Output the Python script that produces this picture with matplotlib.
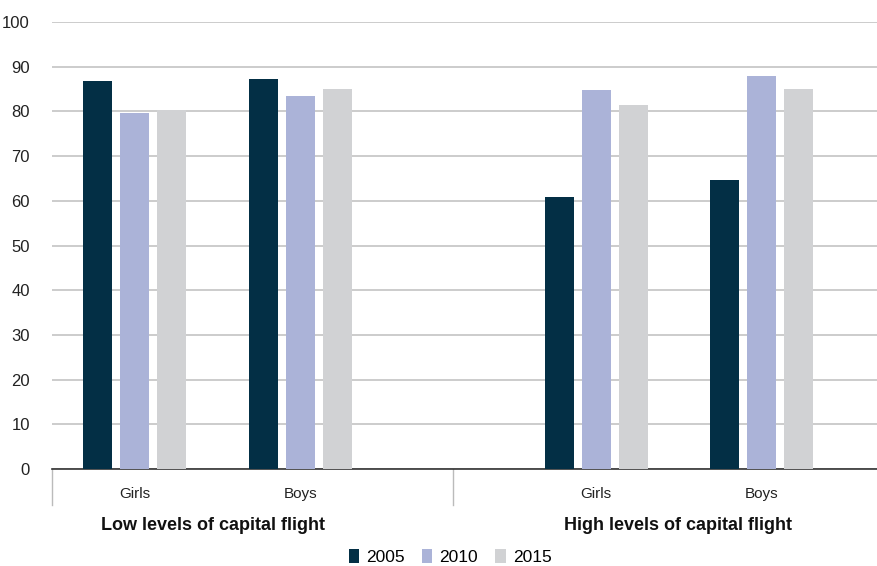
import numpy as np
import matplotlib
matplotlib.use('Agg')
import matplotlib.pyplot as plt

plt.rcParams['font.family'] = ['Liberation Sans Narrow', 'Liberation Sans', 'DejaVu Sans']

YEARS = ['2005', '2010', '2015']
GROUPS = ['Low levels of capital flight', 'High levels of capital flight']
CATS = ['Girls', 'Boys', 'Girls', 'Boys']
VALUES = {
    '2005': [86.8, 87.2, 60.9, 64.7],
    '2010': [79.6, 83.4, 84.8, 87.9],
    '2015': [80.3, 85.1, 81.4, 85.0],
}
COLORS = ['#032f45', '#abb3d8', '#d1d2d4']

# category centres (layout), group separator, group label centres
pos = np.array([0.5, 1.5, 3.28, 4.28])
sep = 2.415
xmax = 4.98
group_pos = [0.97, 3.777]
width = 0.175
step = 0.223

fig = plt.figure(figsize=(8.78, 5.66), dpi=100)
ax = fig.add_axes([52 / 878, 97 / 566, 826 / 878, 447 / 566])

for i, (yr, col) in enumerate(zip(YEARS, COLORS)):
    ax.bar(pos + (i - 1) * step, VALUES[yr], width, color=col, label=yr, zorder=3)

ax.set_xlim(0, xmax)
ax.set_ylim(0, 100)
ax.set_yticks(np.arange(0, 101, 10))
ax.yaxis.grid(True, color='#c4c4c4', linewidth=1.2, zorder=0)
ax.tick_params(axis='y', length=0, pad=16, labelsize=12, labelcolor='#222222')
ax.set_xticks([])
for s in ['top', 'right', 'left']:
    ax.spines[s].set_visible(False)
ax.spines['bottom'].set_color('#333333')
ax.spines['bottom'].set_linewidth(1.2)

# multi-level category axis
trans = ax.get_xaxis_transform()
for x in [0, sep]:
    ax.plot([x, x], [0, -0.08], transform=trans, color='#bbbbbb', lw=1, clip_on=False)
for x, c in zip(pos, CATS):
    ax.text(x, -0.055, c, transform=trans, ha='center', va='center', fontsize=11, color='#222222')
for x, g in zip(group_pos, GROUPS):
    ax.text(x, -0.126, g, transform=trans, ha='center', va='center', fontsize=13,
            fontweight='bold', color='#111111')

fig.legend(loc='center', bbox_to_anchor=(0.5125, 9 / 566), ncol=3, frameon=False,
           fontsize=12.5, handlelength=0.6, handleheight=0.9, handletextpad=0.4,
           columnspacing=1.0)

plt.savefig('out.png', dpi=100)
